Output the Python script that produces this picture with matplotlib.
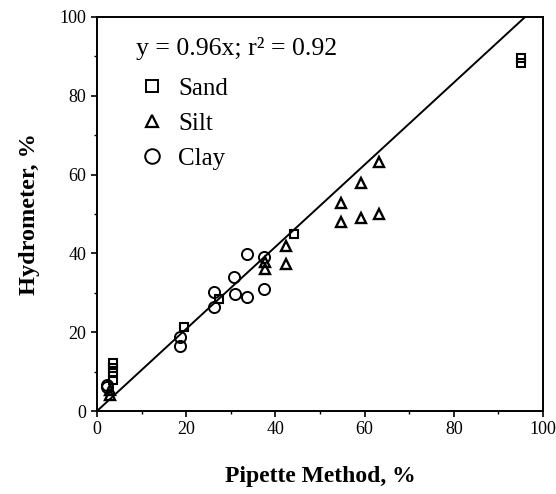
import matplotlib
matplotlib.use('Agg')
import matplotlib.pyplot as plt
from matplotlib.lines import Line2D
from matplotlib.ticker import MultipleLocator

plt.rcParams['font.family'] = ['Liberation Serif', 'DejaVu Serif']

# pipette (x) vs hydrometer (y)
sand_x = [3.5, 3.5, 3.5, 3.5, 19.6, 27.4, 44.2, 95, 95]
sand_y = [12.2, 10.9, 9.6, 7.9, 21.2, 28.4, 44.8, 89.5, 88.3]

silt_x = [2.9, 2.9, 37.7, 37.7, 42.4, 42.4, 54.7, 54.7, 59.3, 59.3, 63.2, 63.2]
silt_y = [4.1, 5.3, 37.9, 36.0, 42.0, 37.2, 52.7, 48.0, 57.8, 49.1, 63.1, 50.0]

clay_x = [2.2, 2.2, 18.6, 18.6, 26.2, 26.3, 30.7, 30.9, 33.7, 33.7, 37.4, 37.4]
clay_y = [6.6, 6.1, 18.8, 16.6, 30.2, 26.4, 34.0, 29.6, 39.9, 29.0, 39.2, 30.9]

slope = 0.96
fit_x = [0, 100]

fig = plt.figure(figsize=(5.56, 4.94), dpi=100)
ax = fig.add_axes([0.1745, 0.168, 0.802, 0.7976])

ax.plot(fit_x, [v / slope for v in fit_x], color='black', lw=1.4)
ax.plot(sand_x, sand_y, 's', mfc='none', mec='black', mew=1.5, ms=6)
ax.plot(silt_x, silt_y, '^', mfc='none', mec='black', mew=1.7, ms=6.5)
ax.plot(clay_x, clay_y, 'o', mfc='none', mec='black', mew=1.4, ms=8)

ax.set_xlim(0, 100)
ax.set_ylim(0, 100)
ax.xaxis.set_major_locator(MultipleLocator(20))
ax.yaxis.set_major_locator(MultipleLocator(20))
ax.xaxis.set_minor_locator(MultipleLocator(10))
ax.yaxis.set_minor_locator(MultipleLocator(10))
ax.tick_params(which='major', direction='out', length=4, width=1.2, labelsize=13)
ax.tick_params(which='minor', direction='out', length=2.5, width=1)
for s in ax.spines.values():
    s.set_linewidth(1.4)

ax.set_xlabel('Pipette Method, %', fontsize=17, fontweight='bold', labelpad=20)
ax.set_ylabel('Hydrometer, %', fontsize=17.5, fontweight='bold', labelpad=14)

ax.text(0.088, 0.919, 'y = 0.96x; r² = 0.92', transform=ax.transAxes,
        fontsize=18.5, va='center', ha='left')

handles = [
    Line2D([], [], ls='none', marker='s', mfc='none', mec='black', mew=1.4, ms=9, label='Sand'),
    Line2D([], [], ls='none', marker='^', mfc='none', mec='black', mew=1.6, ms=8, label='Silt'),
    Line2D([], [], ls='none', marker='o', mfc='none', mec='black', mew=1.4, ms=10.5, label='Clay'),
]
ax.legend(handles=handles, loc='upper left', bbox_to_anchor=(0.094, 0.847),
          frameon=False, fontsize=18, handletextpad=0.52, labelspacing=0.5,
          borderaxespad=0, borderpad=0, handlelength=1.04)

fig.savefig('out.png', dpi=100)
